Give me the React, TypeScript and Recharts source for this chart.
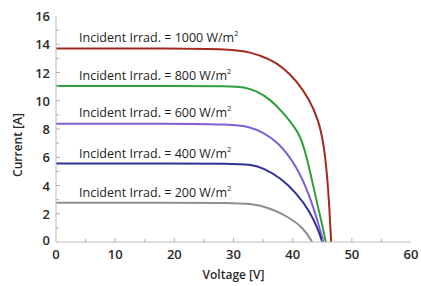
import React from "react";
import { LineChart, Line, XAxis, YAxis, ReferenceDot } from "recharts";

// Irradiance levels (W/m²)
const irradiance = ["1000", "800", "600", "400", "200"];

// I-V curves: voltage [V] and current [A]
const v1000 = [0, 20, 29.4, 32.8, 36.2, 38.4, 40.7, 42.8, 44.3, 45.2, 45.8, 46.2, 46.5];
const i1000 = [13.7, 13.7, 13.65, 13.46, 12.94, 12.35, 11.4, 10.1, 8.7, 7.1, 4.9, 2.5, 0];

const v800 = [0, 20, 29.4, 31.7, 33.9, 36.2, 38.4, 40.6, 41.3, 42.0, 43.0, 44.2, 45.0, 45.6];
const i800 = [11.05, 11.05, 11.03, 10.98, 10.7, 10.1, 9.16, 7.98, 7.4, 6.6, 4.9, 2.6, 1.2, 0];

const v600 = [0, 20, 29.4, 32.8, 35.0, 37.5, 40.7, 42.9, 44.3, 45.2];
const i600 = [8.38, 8.37, 8.33, 8.17, 7.74, 7.1, 5.38, 3.25, 1.36, 0];

const v400 = [0, 20, 29.4, 32.8, 35.0, 37.9, 40.6, 42.9, 44.3, 45.0];
const i400 = [5.55, 5.55, 5.55, 5.5, 5.26, 4.55, 3.49, 2.18, 0.89, 0];

const v200 = [0, 20, 29.4, 32.8, 36.2, 39.5, 41.8, 43.3];
const i200 = [2.78, 2.78, 2.77, 2.73, 2.42, 1.72, 1.0, 0];

const xTicks = [0, 5, 10, 15, 20, 25, 30, 35, 40, 45, 50, 55, 60];
const yTicks = [0, 1, 2, 3, 4, 5, 6, 7, 8, 9, 10, 11, 12, 13, 14, 15, 16];

// label anchor points (data units)
const labelV = 3.9;
const labelI = [14.45, 11.8, 9.2, 6.3, 3.5];

const colors = ["#a3281d", "#2f9e3c", "#7d5fd2", "#2f3196", "#8f8f8f"];

const build = (vs: number[], is: number[]) => vs.map((v, k) => ({ v, i: is[k] }));
const series = [
  build(v1000, i1000),
  build(v800, i800),
  build(v600, i600),
  build(v400, i400),
  build(v200, i200),
];

const FONT = "'Open Sans', sans-serif";

const XTick = (props: any) => {
  const { x, y, payload } = props;
  const val = payload.value;
  const major = val % 10 === 0;
  return (
    <g>
      {val !== 0 && val !== 60 && (
        <line x1={x} x2={x} y1={y} y2={y - (major ? 4 : 3)} stroke="#b0b0b0" strokeWidth={1} />
      )}
      {major && (
        <text x={x} y={y + 17} textAnchor="middle" fontSize={13} fontWeight={600} fill="#2a2a2a" fontFamily={FONT}>
          {val}
        </text>
      )}
    </g>
  );
};

const YTick = (props: any) => {
  const { x, y, payload } = props;
  const val = payload.value;
  const major = val % 2 === 0;
  return (
    <g>
      {val !== 0 && val !== 16 && (
        <line x1={x} x2={x + (major ? 4 : 3)} y1={y} y2={y} stroke="#b0b0b0" strokeWidth={1} />
      )}
      {major && (
        <text x={x - 6} y={y + (val === 0 ? 3 : 5)} textAnchor="end" fontSize={13} fontWeight={600} fill="#2a2a2a" fontFamily={FONT}>
          {val}
        </text>
      )}
    </g>
  );
};

const makeLabel = (level: string) => (props: any) => {
  const { viewBox } = props;
  const x = viewBox.x;
  const y = viewBox.y;
  return (
    <text x={x} y={y + 4.5} fontSize={12.5} fill="#1e1e1e" fontFamily={FONT} textAnchor="start">
      {`Incident Irrad. = ${level} W/m`}
      <tspan fontSize={7.5} dy={-6}>2</tspan>
    </text>
  );
};

export default function App() {
  return (
    <div style={{ position: "absolute", left: 0, top: 0, background: "#fff" }}>
      <LineChart width={421} height={286} margin={{ top: 16, right: 10, bottom: 14, left: 16 }}>
        <XAxis
          xAxisId="top"
          orientation="top"
          type="number"
          dataKey="v"
          domain={[0, 60]}
          height={0}
          tick={false}
          tickLine={false}
          axisLine={{ stroke: "#dedede" }}
        />
        <YAxis
          yAxisId="right"
          orientation="right"
          type="number"
          domain={[0, 16]}
          width={0}
          tick={false}
          tickLine={false}
          axisLine={{ stroke: "#dedede" }}
        />
        <XAxis
          type="number"
          dataKey="v"
          domain={[0, 60]}
          ticks={xTicks}
          interval={0}
          tickSize={0}
          tickMargin={0}
          tickLine={false}
          axisLine={{ stroke: "#bdbdbd" }}
          tick={<XTick />}
          height={30}
          label={{
            value: "Voltage [V]",
            position: "insideBottom",
            offset: -7,
            style: { fontSize: 12, fontWeight: 600, fill: "#2a2a2a", fontFamily: FONT },
          }}
        />
        <YAxis
          type="number"
          domain={[0, 16]}
          ticks={yTicks}
          interval={0}
          tickSize={0}
          tickMargin={0}
          tickLine={false}
          axisLine={{ stroke: "#bdbdbd" }}
          tick={<YTick />}
          width={40}
          label={{
            value: "Current [A]",
            angle: -90,
            position: "insideLeft",
            offset: 0,
            dx: 2,
            dy: 16,
            style: { fontSize: 12, fontWeight: 600, fill: "#2a2a2a", fontFamily: FONT, textAnchor: "middle" },
          }}
        />
        {series.map((d, k) => (
          <Line
            key={irradiance[k]}
            data={d}
            dataKey="i"
            type="basis"
            stroke={colors[k]}
            strokeWidth={2}
            dot={false}
            isAnimationActive={false}
          />
        ))}
        {irradiance.map((lvl, k) => (
          <ReferenceDot
            key={"lbl" + lvl}
            x={labelV}
            y={labelI[k]}
            r={0}
            fill="none"
            stroke="none"
            label={makeLabel(lvl)}
          />
        ))}
      </LineChart>
    </div>
  );
}
